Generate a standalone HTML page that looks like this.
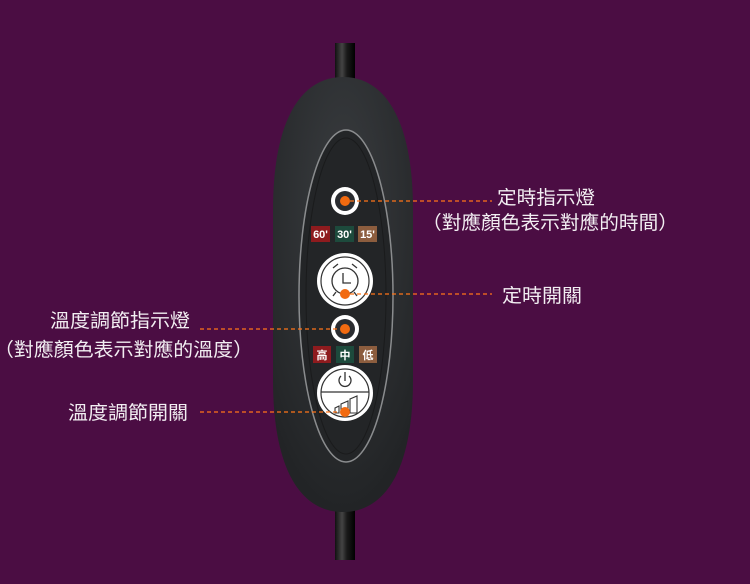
<!DOCTYPE html>
<html><head><meta charset="utf-8"><style>
html,body{margin:0;padding:0;background:#4b0d43;}
svg{display:block}
text{font-family:"Liberation Sans","Noto Sans CJK TC",sans-serif;fill:#f2eef2;font-size:19px}
.b{font-family:"Liberation Sans","Noto Sans CJK TC",sans-serif;font-size:11px;font-weight:bold;fill:#fff}
</style></head><body>
<svg width="750" height="584" viewBox="0 0 750 584" xmlns="http://www.w3.org/2000/svg">
<defs>
<linearGradient id="cab" x1="0" x2="1"><stop offset="0" stop-color="#111"/><stop offset="0.35" stop-color="#444"/><stop offset="0.6" stop-color="#1a1a1a"/><stop offset="1" stop-color="#000"/></linearGradient>
<radialGradient id="bod" cx="0.5" cy="0.3" r="0.7"><stop offset="0" stop-color="#3a3d40"/><stop offset="1" stop-color="#222426"/></radialGradient>
</defs>
<rect width="750" height="584" fill="#4b0d43"/>
<rect x="335" y="43" width="20" height="50" fill="url(#cab)"/>
<rect x="335" y="490" width="20" height="70" fill="url(#cab)"/>
<path d="M343 77 C385 77 413 120 413 210 L413 380 C413 470 385 512 343 512 C301 512 273 470 273 380 L273 210 C273 120 301 77 343 77 Z" fill="url(#bod)"/>
<ellipse cx="346" cy="296" rx="47" ry="166" fill="#232527" stroke="#8a8c8e" stroke-width="1.5"/>
<ellipse cx="346" cy="296" rx="40" ry="158" fill="none" stroke="#1a1b1c" stroke-width="1"/>
<circle cx="345" cy="201" r="14" fill="#fff"/><circle cx="345" cy="201" r="10" fill="#2a2c30"/><circle cx="345" cy="201" r="5" fill="#f26a10"/>
<rect x="311" y="226" width="19" height="16" fill="#8e1b1e"/><text class="b" x="320.5" y="238" text-anchor="middle">60'</text>
<rect x="335" y="226" width="19" height="16" fill="#1d4a3c"/><text class="b" x="344.5" y="238" text-anchor="middle">30'</text>
<rect x="358" y="226" width="19" height="16" fill="#8c5d3e"/><text class="b" x="367.5" y="238" text-anchor="middle">15'</text>
<circle cx="345" cy="281" r="28" fill="#fff"/><circle cx="345" cy="281" r="24" fill="none" stroke="#333" stroke-width="1.2"/>
<circle cx="345" cy="281" r="13" fill="none" stroke="#333" stroke-width="1.3"/>
<path d="M343 273 V283 H351" fill="none" stroke="#333" stroke-width="1.3"/>
<path d="M333 268 L338 264 M357 268 L352 264 M336 292 L333 296 M354 292 L357 296" stroke="#333" stroke-width="1.3"/>
<circle cx="345" cy="294" r="5" fill="#f26a10"/>
<circle cx="345" cy="329" r="14" fill="#fff"/><circle cx="345" cy="329" r="10" fill="#2a2c30"/><circle cx="345" cy="329" r="5" fill="#f26a10"/>
<rect x="313" y="346" width="18" height="17" fill="#8e1b1e"/><text class="b" x="322" y="359" text-anchor="middle">高</text>
<rect x="336" y="346" width="18" height="17" fill="#1d4a3c"/><text class="b" x="345" y="359" text-anchor="middle">中</text>
<rect x="359" y="346" width="18" height="17" fill="#8c5d3e"/><text class="b" x="368" y="359" text-anchor="middle">低</text>
<circle cx="345" cy="393" r="28" fill="#fff"/><circle cx="345" cy="393" r="24" fill="none" stroke="#333" stroke-width="1.2"/>
<line x1="321" y1="392" x2="369" y2="392" stroke="#333" stroke-width="1.3"/>
<path d="M341 376 A6 6 0 1 0 349 376" fill="none" stroke="#333" stroke-width="1.3"/><line x1="345" y1="372" x2="345" y2="381" stroke="#333" stroke-width="1.3"/>
<path d="M335 413 L335 408 L339 406 L339 413 Z M341 413 L341 404 L348 401 L348 413 Z M350 413 L350 399 L357 396 L357 413 Z" fill="none" stroke="#333" stroke-width="1.1"/>
<circle cx="345" cy="412" r="5" fill="#f26a10"/>
<g stroke="#ff7418" stroke-width="1.2" stroke-dasharray="4,3">
<line x1="350" y1="201" x2="492" y2="201"/>
<line x1="350" y1="294" x2="492" y2="294"/>
<line x1="200" y1="329" x2="340" y2="329"/>
<line x1="200" y1="412" x2="340" y2="412"/>
</g>
<text x="497" y="204" textLength="98" lengthAdjust="spacingAndGlyphs">定時指示燈</text>
<text x="422" y="229" textLength="256" lengthAdjust="spacingAndGlyphs">（對應顏色表示對應的時間）</text>
<text x="502" y="302" textLength="80" lengthAdjust="spacingAndGlyphs">定時開關</text>
<text x="50" y="327" textLength="140" lengthAdjust="spacingAndGlyphs">溫度調節指示燈</text>
<text x="-6" y="356" textLength="259" lengthAdjust="spacingAndGlyphs">（對應顏色表示對應的溫度）</text>
<text x="68" y="419" textLength="120" lengthAdjust="spacingAndGlyphs">溫度調節開關</text>
</svg>
</body></html>
